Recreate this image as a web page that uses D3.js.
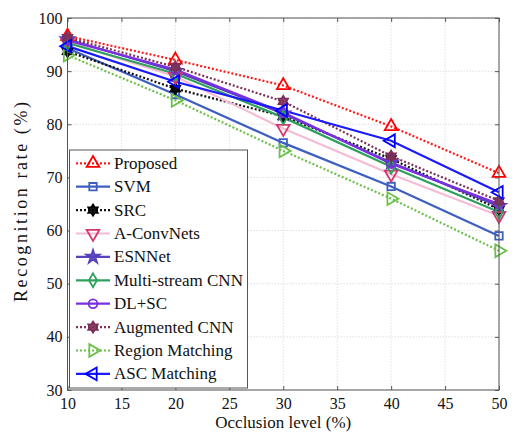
<!DOCTYPE html>
<html>
<head>
<meta charset="utf-8">
<script src="https://cdn.jsdelivr.net/npm/d3@7"></script>
<style>
  html, body { margin: 0; padding: 0; background: #fff; }
  svg text { font-family: "Liberation Serif", "Times New Roman", Times, serif; fill: #111; }
</style>
</head>
<body>
<svg id="chart" width="514" height="434"></svg>
<script>
// Occlusion levels (%) on the x axis
const occlusion = [10, 20, 30, 40, 50];
const xTicks = [10, 15, 20, 25, 30, 35, 40, 45, 50];
const yTicks = [30, 40, 50, 60, 70, 80, 90, 100];

// Recognition rate (%) per method
const proposed      = [96.6, 92.1, 87.3, 79.6, 70.8];
const svm           = [94.3, 85.6, 76.5, 68.3, 59.0];
const src           = [93.7, 86.7, 81.5, 73.5, 64.0];
const aConvNets     = [95.5, 89.0, 79.2, 70.6, 62.8];
const esnNet        = [96.0, 90.0, 82.0, 72.8, 64.6];
const multiStream   = [95.3, 89.5, 81.3, 72.0, 63.5];
const dlSc          = [95.8, 90.3, 82.2, 72.6, 65.0];
const augmentedCnn  = [96.3, 90.8, 84.3, 74.0, 65.6];
const regionMatch   = [93.0, 84.5, 75.0, 66.0, 56.2];
const ascMatch      = [94.7, 88.0, 82.6, 76.9, 67.2];

const seriesNames = ["Proposed", "SVM", "SRC", "A-ConvNets", "ESNNet",
  "Multi-stream CNN", "DL+SC", "Augmented CNN", "Region Matching", "ASC Matching"];

// Styles per method, in legend order
const styles = [
  { values: proposed,     line: "#ff1a1a", mark: "#ff0000", dash: "2,2", sym: "triUp",    fill: "none" },
  { values: svm,          line: "#3d5fbf", mark: "#3d5fbf", dash: null,  sym: "square",   fill: "none" },
  { values: src,          line: "#111111", mark: "#000000", dash: "2,2", sym: "hex",      fill: "#000" },
  { values: aConvNets,    line: "#f5bcd6", mark: "#d8356f", dash: null,  sym: "triDown",  fill: "none" },
  { values: esnNet,       line: "#5940bd", mark: "#5940bd", dash: null,  sym: "star",     fill: "#5940bd" },
  { values: multiStream,  line: "#2fa05c", mark: "#2fa05c", dash: null,  sym: "diamond",  fill: "none" },
  { values: dlSc,         line: "#7a2fe0", mark: "#7a2fe0", dash: null,  sym: "circle",   fill: "none" },
  { values: augmentedCnn, line: "#7d2f58", mark: "#7d2f58", dash: "2,2", sym: "hexFill",  fill: "#7d2f58" },
  { values: regionMatch,  line: "#6cc04a", mark: "#6cc04a", dash: "2,2", sym: "triRight", fill: "none" },
  { values: ascMatch,     line: "#1a1aff", mark: "#0000ff", dash: null,  sym: "triLeft",  fill: "none" }
];

const svg = d3.select("#chart");
const margin = { left: 67.5, right: 15, top: 18, bottom: 44 };
const W = 514, H = 434;
const x = d3.scaleLinear().domain([10, 50]).range([margin.left, W - margin.right]);
const y = d3.scaleLinear().domain([30, 100]).range([H - margin.bottom, margin.top]);

// Grid
const grid = svg.append("g").attr("stroke", "#d8d8d8").attr("stroke-width", 0.8).attr("stroke-dasharray", "1.5,1.5");
grid.selectAll(".gx").data(xTicks).join("line")
  .attr("x1", d => x(d)).attr("x2", d => x(d)).attr("y1", y(30)).attr("y2", y(100));
grid.selectAll(".gy").data(yTicks).join("line")
  .attr("x1", x(10)).attr("x2", x(50)).attr("y1", d => y(d)).attr("y2", d => y(d));

// Axes with inward ticks
const axisStyle = g => {
  g.select(".domain").remove();
  g.selectAll("line").attr("stroke", "#555");
  g.selectAll("text").style("font-family", '"Liberation Serif", serif').style("font-size", "16px").attr("fill", "#111");
};
svg.append("g").attr("transform", `translate(0,${y(30)})`)
  .call(d3.axisBottom(x).tickValues(xTicks).tickSize(-4).tickPadding(8).tickFormat(d3.format("d")))
  .call(axisStyle);
svg.append("g").attr("transform", `translate(${x(10)},0)`)
  .call(d3.axisLeft(y).tickValues(yTicks).tickSize(-4).tickPadding(5).tickFormat(d3.format("d")))
  .call(axisStyle);
svg.append("g").attr("transform", `translate(0,${y(100)})`)
  .call(d3.axisTop(x).tickValues(xTicks).tickSize(-4).tickFormat(""))
  .call(axisStyle);
svg.append("g").attr("transform", `translate(${x(50)},0)`)
  .call(d3.axisRight(y).tickValues(yTicks).tickSize(-4).tickFormat(""))
  .call(axisStyle);

// Marker shapes
function hexStar(r) {
  const pts = [];
  for (let i = 0; i < 12; i++) {
    const a = Math.PI / 6 * i - Math.PI / 2;
    const rr = i % 2 === 0 ? r : r * 0.6;
    pts.push([rr * Math.cos(a), rr * Math.sin(a)]);
  }
  return "M" + pts.map(p => p.join(",")).join("L") + "Z";
}
function markerPath(sym) {
  switch (sym) {
    case "triUp":    return { d: d3.symbol(d3.symbolTriangle, 70)(), rot: 0 };
    case "triDown":  return { d: d3.symbol(d3.symbolTriangle, 70)(), rot: 180 };
    case "triRight": return { d: d3.symbol(d3.symbolTriangle, 70)(), rot: 90 };
    case "triLeft":  return { d: d3.symbol(d3.symbolTriangle, 70)(), rot: -90 };
    case "square":   return { d: d3.symbol(d3.symbolSquare, 55)(), rot: 0 };
    case "diamond":  return { d: d3.symbol(d3.symbolDiamond, 55)(), rot: 0 };
    case "circle":   return { d: d3.symbol(d3.symbolCircle, 60)(), rot: 0 };
    case "star":     return { d: d3.symbol(d3.symbolStar, 55)(), rot: 0 };
    case "hex":      return { d: hexStar(5.5), rot: 0 };
    case "hexFill":  return { d: hexStar(5.5), rot: 0 };
  }
}
function drawMarker(g, s, cx, cy) {
  const m = markerPath(s.sym);
  g.append("path").attr("d", m.d)
    .attr("transform", `translate(${cx},${cy}) rotate(${m.rot})`)
    .attr("fill", s.fill).attr("fill-opacity", s.fill === "none" ? 0 : 0.9)
    .attr("stroke", s.mark).attr("stroke-width", 1.8);
}

// Lines and markers
const lineGen = d3.line().x((d, i) => x(occlusion[i])).y(d => y(d));
const plot = svg.append("g");
styles.forEach(s => {
  plot.append("path").datum(s.values)
    .attr("d", lineGen).attr("fill", "none")
    .attr("stroke", s.line).attr("stroke-width", 2.2)
    .attr("stroke-dasharray", s.dash);
});
styles.forEach(s => {
  s.values.forEach((v, i) => drawMarker(plot, s, x(occlusion[i]), y(v)));
});

// Frame
svg.append("rect").attr("x", x(10)).attr("y", y(100))
  .attr("width", x(50) - x(10)).attr("height", y(30) - y(100))
  .attr("fill", "none").attr("stroke", "#555").attr("stroke-width", 1);

// Legend
const leg = svg.append("g");
leg.append("rect").attr("x", 69.5).attr("y", 150).attr("width", 178).attr("height", 238)
  .attr("fill", "#fff").attr("stroke", "#555").attr("stroke-width", 1);
styles.forEach((s, i) => {
  const cy = 163.3 + i * 23.4;
  leg.append("line").attr("x1", 76).attr("x2", 110).attr("y1", cy).attr("y2", cy)
    .attr("stroke", s.line).attr("stroke-width", 2.2).attr("stroke-dasharray", s.dash);
  drawMarker(leg, s, 93, cy);
  leg.append("text").attr("x", 114).attr("y", cy + 5.5)
    .style("font-size", "17px").text(seriesNames[i]);
});

// Axis titles
svg.append("text").attr("x", (x(10) + x(50)) / 2).attr("y", 428)
  .attr("text-anchor", "middle").style("font-size", "17px").text("Occlusion level (%)");
svg.append("text").attr("transform", `translate(27,${(y(30) + y(100)) / 2 - 2}) rotate(-90)`)
  .attr("text-anchor", "middle").style("font-size", "18px")
  .attr("textLength", 200).attr("lengthAdjust", "spacing")
  .text("Recognition rate (%)");
</script>
</body>
</html>
